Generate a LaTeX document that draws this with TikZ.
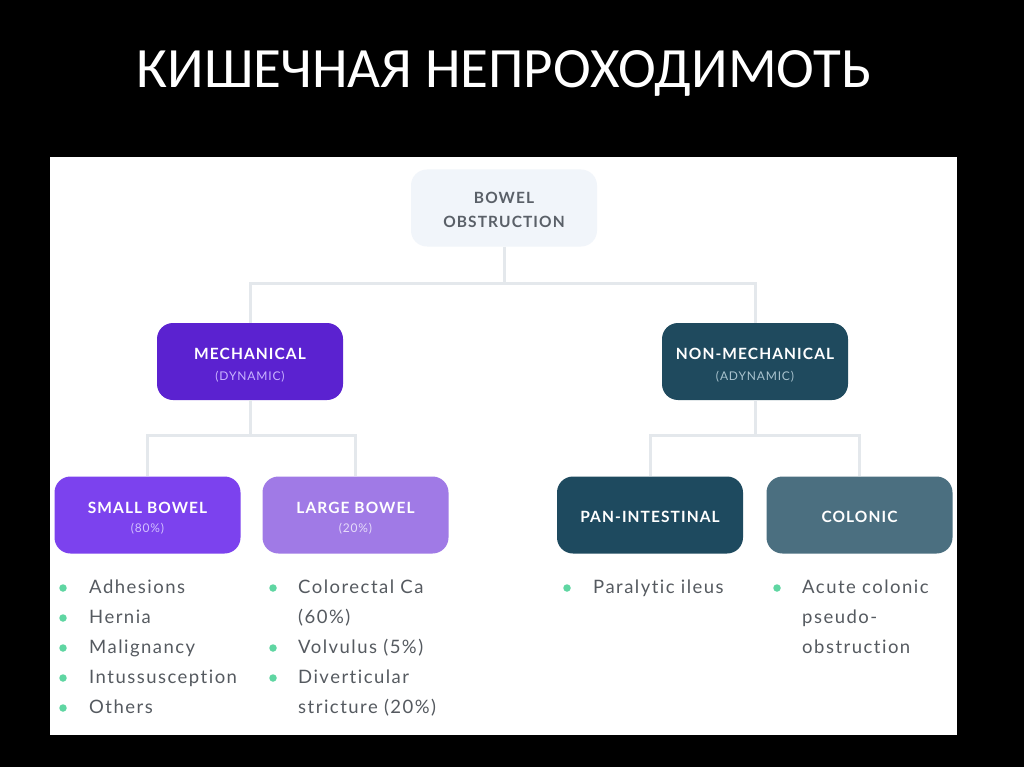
\documentclass[tikz,border=0pt]{standalone}
\usepackage{fontspec}
\setmainfont{Lato}[Ligatures={NoCommon,NoRare}]
\newfontfamily\titlefont{Carlito}
\definecolor{linec}{HTML}{E4E8EC}
\definecolor{topfill}{HTML}{F1F5FA}
\definecolor{toptext}{HTML}{5A6068}
\definecolor{mechc}{HTML}{5B22D0}
\definecolor{nmechc}{HTML}{1F4A5E}
\definecolor{smallc}{HTML}{7C42EE}
\definecolor{largec}{HTML}{A07AE6}
\definecolor{panc}{HTML}{1E4A5F}
\definecolor{colc}{HTML}{4B6F80}
\definecolor{dotc}{HTML}{5FD6A2}
\definecolor{listc}{HTML}{555A60}
\definecolor{mechsub}{HTML}{C9B4FF}
\definecolor{nmechsub}{HTML}{A9C3CE}
\definecolor{smallsub}{HTML}{D2C0FF}
\definecolor{largesub}{HTML}{E6DCFA}
\tikzset{
  x=1pt,y=-1pt,
  catbox/.style={rounded corners=16pt, minimum width=186pt, minimum height=77pt, inner sep=0pt},
  lbl/.style={anchor=base, inner sep=0pt, font=\bfseries\addfontfeature{LetterSpace=7}\fontsize{15.5}{18}\selectfont},
  sublbl/.style={anchor=base, inner sep=0pt, font=\addfontfeature{LetterSpace=7}\fontsize{12}{14}\selectfont},
  conn/.style={draw=linec, line width=3pt},
  bul/.style={circle, fill=dotc, minimum size=7.5pt, inner sep=0pt},
  item/.style={anchor=base west, inner sep=0pt, text=listc, font=\addfontfeature{LetterSpace=8}\fontsize{18.5}{21}\selectfont}
}
\begin{document}
\begin{tikzpicture}
\fill[black] (0,0) rectangle (1024,767);
\useasboundingbox (0,0) rectangle (1024,767);
\fill[white] (50,157) rectangle (957,735);
\node[text=white, font=\titlefont\fontsize{57}{60}\selectfont] (title) at (504,73) {КИШЕЧНАЯ НЕПРОХОДИМОТЬ};

\node[catbox, fill=topfill] (bo) at (504,208) {};
\node[lbl, text=toptext] (bo1) at (504,204) {BOWEL};
\node[lbl, text=toptext] (bo2) at (504,228) {OBSTRUCTION};

\node[catbox, fill=mechc] (mech) at (250,361.5) {};
\node[lbl, text=white] (mech1) at (250,359) {MECHANICAL};
\node[sublbl, text=mechsub] (mech2) at (250,380) {(DYNAMIC)};

\node[catbox, fill=nmechc] (nmech) at (755,361.5) {};
\node[lbl, text=white] (nmech1) at (755,359) {NON-MECHANICAL};
\node[sublbl, text=nmechsub] (nmech2) at (755,380) {(ADYNAMIC)};

\node[catbox, fill=smallc] (small) at (147.5,515) {};
\node[lbl, text=white] (small1) at (147.5,513) {SMALL BOWEL};
\node[sublbl, text=smallsub] (small2) at (147.5,532) {(80\%)};

\node[catbox, fill=largec] (large) at (355.5,515) {};
\node[lbl, text=white] (large1) at (355.5,513) {LARGE BOWEL};
\node[sublbl, text=largesub] (large2) at (355.5,532) {(20\%)};

\node[catbox, fill=panc] (pan) at (650,515) {};
\node[lbl, text=white] (pan1) at (650,522) {PAN-INTESTINAL};

\node[catbox, fill=colc] (col) at (859.5,515) {};
\node[lbl, text=white] (col1) at (859.5,522) {COLONIC};

\coordinate (j1) at (504,283);
\coordinate (j2) at (250,435);
\coordinate (j3) at (755,435);
\draw[conn] (bo.south) -- (j1);
\draw[conn] (mech.north) |- (j1) -| (nmech.north);
\draw[conn] (mech.south) -- (j2);
\draw[conn] (small.north) |- (j2) -| (large.north);
\draw[conn] (nmech.south) -- (j3);
\draw[conn] (pan.north) |- (j3) -| (col.north);

% small bowel list
\node[bul] (d1) at (63,588) {};
\node[item] (t1) at (89,593) {Adhesions};
\node[bul] (d2) at (63,618) {};
\node[item] (t2) at (89,623) {Hernia};
\node[bul] (d3) at (63,648) {};
\node[item] (t3) at (89,653) {Malignancy};
\node[bul] (d4) at (63,678) {};
\node[item] (t4) at (89,683) {Intussusception};
\node[bul] (d5) at (63,708) {};
\node[item] (t5) at (89,713) {Others};
% large bowel list
\node[bul] (e1) at (273,588) {};
\node[item] (u1) at (298,593) {Colorectal Ca};
\node[item] (u1b) at (298,623) {(60\%)};
\node[bul] (e2) at (273,648) {};
\node[item] (u2) at (298,653) {Volvulus (5\%)};
\node[bul] (e3) at (273,678) {};
\node[item] (u3) at (298,683) {Diverticular};
\node[item] (u3b) at (298,713) {stricture (20\%)};
% pan-intestinal
\node[bul] (f1) at (567,588) {};
\node[item] (v1) at (593,593) {Paralytic ileus};
% colonic
\node[bul] (g1) at (777,588) {};
\node[item] (w1) at (802,593) {Acute colonic};
\node[item] (w1b) at (802,623) {pseudo-};
\node[item] (w1c) at (802,653) {obstruction};
\end{tikzpicture}
\end{document}
